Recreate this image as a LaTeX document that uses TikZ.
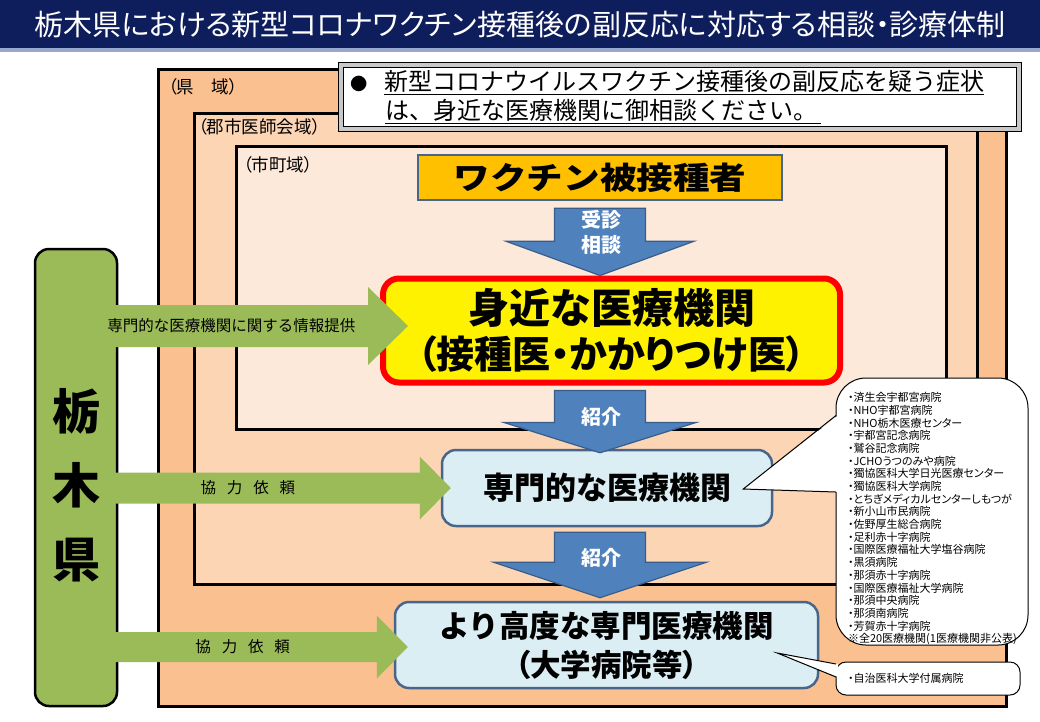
\documentclass[tikz,border=0pt]{standalone}
\usepackage{fontspec}
\setmainfont{Noto Sans CJK JP}[RawFeature=+palt]
\newfontfamily\jpmono{Noto Sans CJK JP}
\usepackage{graphicx}
\usetikzlibrary{arrows.meta, positioning, calc}

\newcommand{\jpsize}[2]{\fontsize{#1}{#2}\selectfont}

\definecolor{navy}{RGB}{14,30,92}
\definecolor{navyline}{RGB}{150,168,205}
\definecolor{kenfill}{RGB}{250,192,143}
\definecolor{gunfill}{RGB}{252,213,181}
\definecolor{shifill}{RGB}{253,233,217}
\definecolor{amber}{RGB}{255,192,0}
\definecolor{steel}{RGB}{72,102,140}
\definecolor{paleblue}{RGB}{219,238,244}
\definecolor{arrowblue}{RGB}{79,129,189}
\definecolor{arrowedge}{RGB}{56,93,138}
\definecolor{leaf}{RGB}{155,187,89}
\definecolor{bevel}{RGB}{200,200,200}

\tikzstyle{titlebar} = [rectangle, fill=navy, text=white, minimum width=1040, minimum height=48, inner sep=0, font=\jpsize{29}{36}]
\tikzstyle{area} = [rectangle, draw=black, line width=2.5, anchor=north west, inner sep=0]
\tikzstyle{areatag} = [anchor=west, inner sep=0, font=\jpsize{17.5}{20}]
\tikzstyle{noticebox} = [rectangle, draw=black, line width=1.2, double=bevel, double distance=3.6, fill=white, minimum width=678, minimum height=64, text width=660, inner xsep=9, inner ysep=0, align=left, font=\jpmono\jpsize{24}{29}]
\tikzstyle{recipient} = [rectangle, draw=steel, line width=2.5, fill=amber, minimum width=364, minimum height=45, inner sep=0, font=\jpmono\bfseries\jpsize{31}{36}]
\tikzstyle{nearbox} = [rectangle, rounded corners=16, draw=red, line width=6, fill=yellow, minimum width=457, minimum height=104, inner sep=0, align=center, font=\jpsize{38}{45}]
\tikzstyle{specbox} = [rectangle, rounded corners=14, draw=steel, line width=2.5, fill=paleblue, inner sep=0, align=center]
\tikzstyle{prefbox} = [rectangle, rounded corners=14, draw=black, line width=2.5, fill=leaf, minimum width=82, minimum height=457, inner sep=0, align=center, font=\jpmono\bfseries\jpsize{48}{74}]
\tikzstyle{bluearrow} = [fill=arrowblue, draw=arrowedge, line width=1.2]
\tikzstyle{arrowtext} = [text=white, inner sep=0, align=center, font=\jpmono\bfseries\jpsize{20}{25}]
\tikzstyle{greenarrow} = [fill=leaf]
\tikzstyle{greentext} = [inner sep=0, font=\jpmono\jpsize{15.5}{18}]
\tikzstyle{balloon} = [rectangle, draw=black, line width=1, fill=white, align=left, inner xsep=12, inner ysep=0, font=\jpsize{11}{12.68}]

\begin{document}
\begin{tikzpicture}[x=1pt, y=-1pt]
    \useasboundingbox (0,0) rectangle (1040,721);

    % Title
    \node[titlebar, anchor=north west] (title) at (0,0) {栃木県における新型コロナワクチン接種後の副反応に対応する相談・診療体制};
    \fill[navyline] (title.south west) rectangle ++(1040,4);

    % Areas
    \node[area, fill=kenfill, minimum width=848, minimum height=637] (ken) at (157,68) {};
    \node[area, fill=gunfill, minimum width=783, minimum height=471] (gunshi) at (193,112) {};
    \node[area, fill=shifill, minimum width=710, minimum height=283] (shicho) at (235,145) {};
    \node[areatag] (kentag) at (168,87) {（県　域）};
    \node[areatag] (guntag) at (198,127) {（郡市医師会域）};
    \node[areatag] (shitag) at (243,165) {（市町域）};

    % Notice
    \node[noticebox] (notice) at (680,97) {\scalebox{0.72}{●}\hspace*{17pt}\underline{新型コロナウイルスワクチン接種後の副反応を疑う症状}\\
        \hspace*{35pt}\underline{は、身近な医療機関に御相談ください。\hspace{4pt}}};

    % Flow
    \node[recipient] (recip) at (600,177.5) {\scalebox{1.18}[1]{ワクチン被接種者}};
    \node[nearbox] (near) at (611.5,330.5) {{\jpmono\bfseries\jpsize{41}{45}身近な医療機関}\\{\bfseries（接種医・かかりつけ医）}};
    \node[specbox, minimum width=330, minimum height=76, font=\jpmono\bfseries\jpsize{31}{36}] (spec) at (607,488) {専門的な医療機関};
    \node[specbox, minimum width=423, minimum height=86, font=\bfseries\jpsize{30.5}{39}] (adv) at (606.5,645) {{\jpmono より高度な専門医療機関}\\（大学病院等）};

    % Prefecture
    \node[prefbox] (pref) at (76,477.5) {\rule{0pt}{56pt}栃\\木\\県};

    % Blue arrows
    \coordinate (r2) at (recip.south |- near.south);
    \coordinate (r3) at (recip.south |- spec.south);
    \draw[bluearrow] ($(recip.south)+(-45.5,7)$) -- ($(recip.south)+(45.5,7)$) -- ($(recip.south)+(45.5,40)$) -- ($(recip.south)+(94,40)$)
        -- (recip.south |- near.north) -- ($(recip.south)+(-94,40)$) -- ($(recip.south)+(-45.5,40)$) -- cycle;
    \draw[bluearrow] ($(r2)+(-45.5,5)$) -- ($(r2)+(45.5,5)$) -- ($(r2)+(45.5,37)$) -- ($(r2)+(96,37)$)
        -- ($(recip.south |- spec.north)+(0,4)$) -- ($(r2)+(-96,37)$) -- ($(r2)+(-45.5,37)$) -- cycle;
    \draw[bluearrow] ($(r3)+(-45.5,5)$) -- ($(r3)+(45.5,5)$) -- ($(r3)+(45.5,35)$) -- ($(r3)+(106.5,35)$)
        -- ($(recip.south |- adv.north)+(0,-3)$) -- ($(r3)+(-106.5,35)$) -- ($(r3)+(-45.5,35)$) -- cycle;
    \node[arrowtext] (consult) at ($(recip.south)+(1,31)$) {受診\\相談};
    \node[arrowtext] (refer1) at ($(r2)+(1,31)$) {紹介};
    \node[arrowtext] (refer2) at ($(r3)+(1,31)$) {紹介};

    % Green arrows
    \coordinate (g1) at ($(near.west)+(28,-4.5)$);
    \coordinate (g1s) at (pref.east |- g1);
    \fill[greenarrow] ($(g1s)+(-4,-21)$) -- ($(g1)+(-40,-21)$) -- ($(g1)+(-40,-39)$) -- (g1)
        -- ($(g1)+(-40,39)$) -- ($(g1)+(-40,21)$) -- ($(g1s)+(-4,21)$) -- cycle;
    \node[greentext] (infolabel) at ($(g1s)!0.39!(g1)$) {専門的な医療機関に関する情報提供};

    \coordinate (g2) at ($(spec.west)+(10,0)$);
    \coordinate (g2s) at (pref.east |- g2);
    \fill[greenarrow] ($(g2s)+(-4,-15.5)$) -- ($(g2)+(-31,-15.5)$) -- ($(g2)+(-31,-31.5)$) -- (g2)
        -- ($(g2)+(-31,31.5)$) -- ($(g2)+(-31,15.5)$) -- ($(g2s)+(-4,15.5)$) -- cycle;
    \node[greentext] (asklabel1) at ($(g2s)!0.39!(g2)$) {\spaceskip=0.7em\relax 協 力 依 頼};

    \coordinate (g3) at ($(adv.west)+(14,2)$);
    \coordinate (g3s) at (pref.east |- g3);
    \fill[greenarrow] ($(g3s)+(-4,-15)$) -- ($(g3)+(-31,-15)$) -- ($(g3)+(-31,-31.5)$) -- (g3)
        -- ($(g3)+(-31,31.5)$) -- ($(g3)+(-31,15)$) -- ($(g3s)+(-4,15)$) -- cycle;
    \node[greentext] (asklabel2) at ($(g3s)!0.43!(g3)$) {\spaceskip=0.7em\relax 協 力 依 頼};

    % Callouts
    \node[balloon, rounded corners=30, minimum width=192, minimum height=267, text width=168] (hosplist) at (932,511.5) {\rule{0pt}{23.7pt}・済生会宇都宮病院\\・NHO宇都宮病院\\・NHO栃木医療センター\\・宇都宮記念病院\\・鷲谷記念病院\\・JCHOうつのみや病院\\・獨協医科大学日光医療センター\\・獨協医科大学病院\\・とちぎメディカルセンターしもつが\\・新小山市民病院\\・佐野厚生総合病院\\・足利赤十字病院\\・国際医療福祉大学塩谷病院\\・黒須病院\\・那須赤十字病院\\・国際医療福祉大学病院\\・那須中央病院\\・那須南病院\\・芳賀赤十字病院\\※全20医療機関(1医療機関非公表)};
    \node[balloon, rounded corners=10, minimum width=184, minimum height=33, text width=160] (univlist) at (928,678.5) {・自治医科大学付属病院};

    \coordinate (tip1) at ($(spec.east)+(-30,1)$);
    \fill[white] (tip1) -- ($(hosplist.west)+(2.5,-96)$) -- ($(hosplist.west)+(2.5,-19.5)$) -- cycle;
    \draw[line width=1] ($(hosplist.west)+(0.5,-96)$) -- (tip1) -- ($(hosplist.west)+(0.5,-19.5)$);

    \coordinate (tip2) at ($(adv.east)+(-42,8)$);
    \fill[white] (tip2) -- ($(univlist.west)+(2.5,-14.5)$) -- ($(univlist.west)+(2.5,-1.5)$) -- cycle;
    \draw[line width=1] ($(univlist.west)+(0.5,-14.5)$) -- (tip2) -- ($(univlist.west)+(0.5,-1.5)$);

\end{tikzpicture}
\end{document}
